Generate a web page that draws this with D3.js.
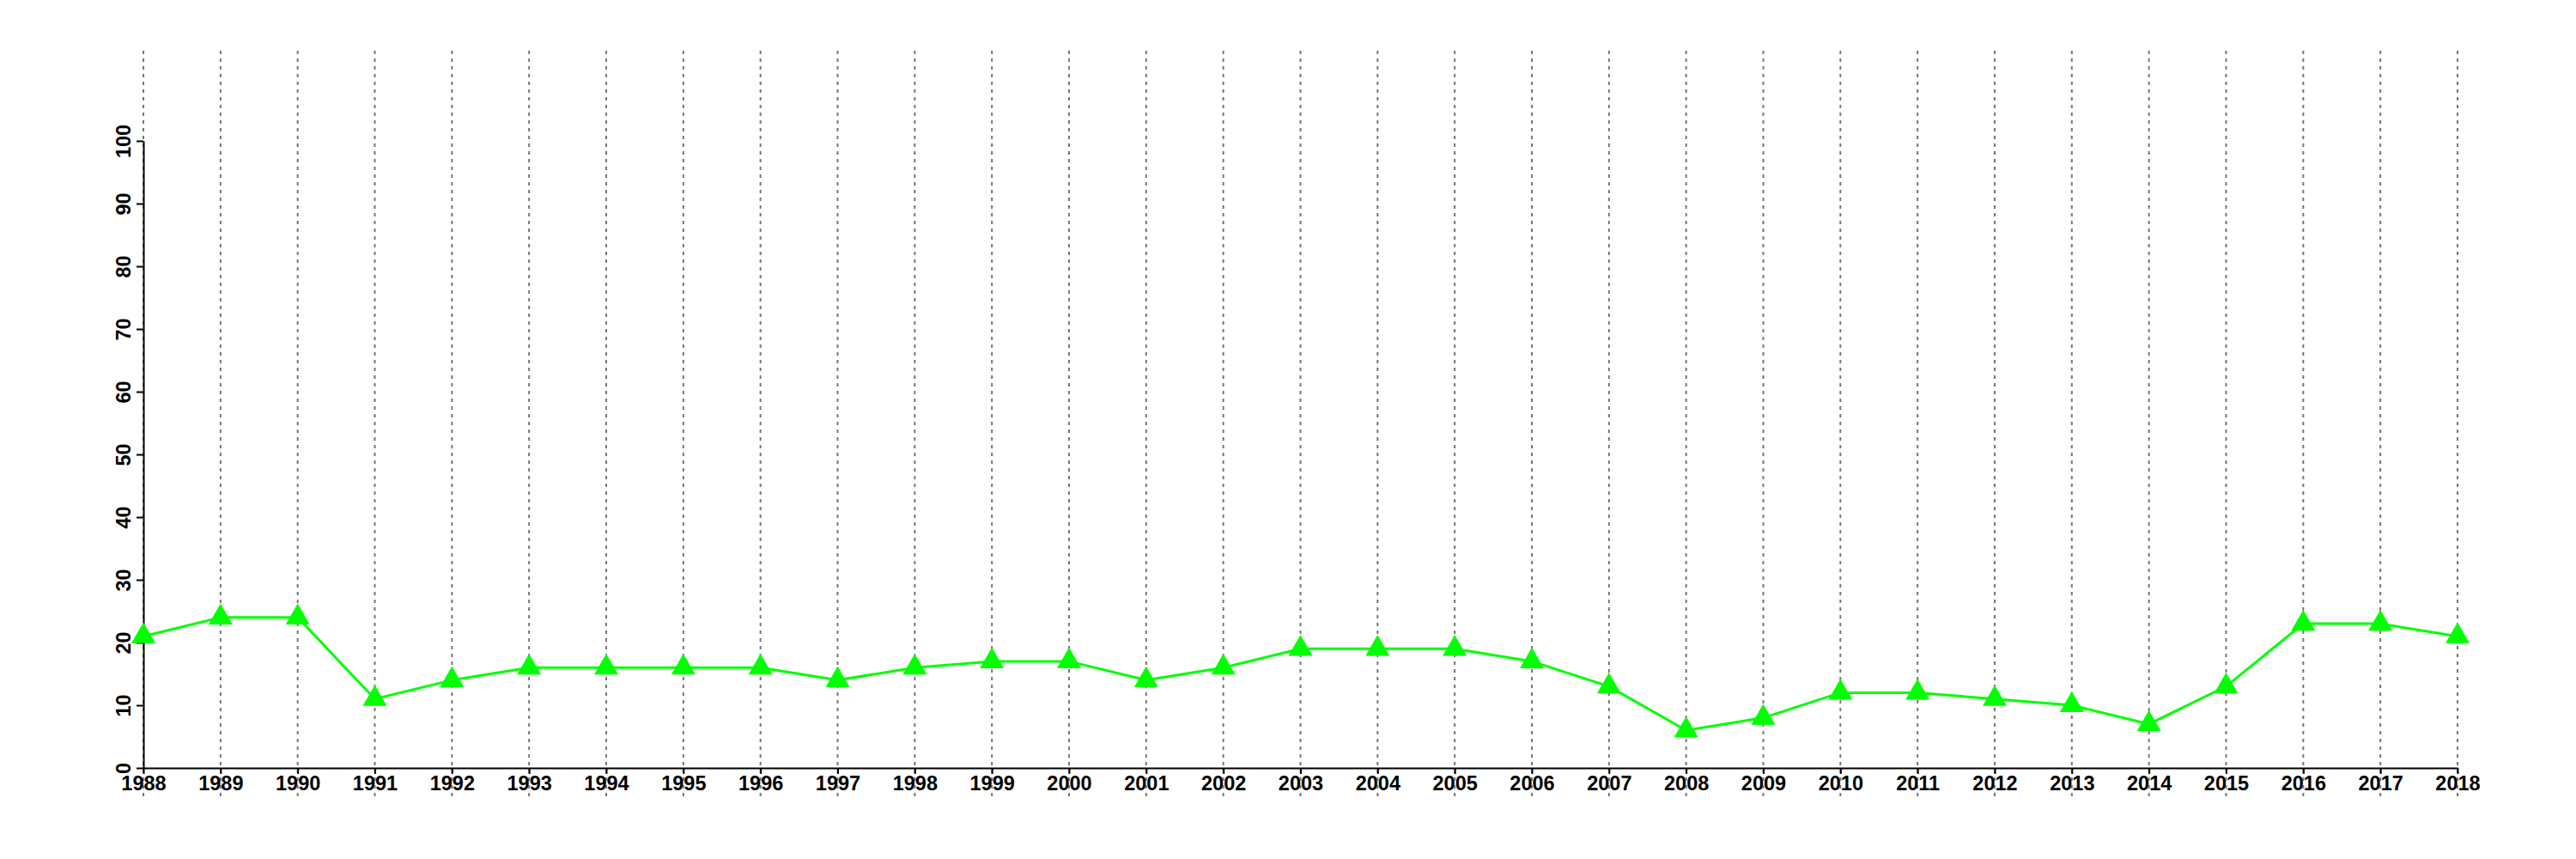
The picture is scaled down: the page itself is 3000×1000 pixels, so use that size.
<!DOCTYPE html>
<html>
<head>
<meta charset="utf-8">
<script src="https://cdn.jsdelivr.net/npm/d3@7"></script>
<style>
  html, body { margin: 0; padding: 0; background: #fff; }
  svg { display: block; }
  text { font-family: "Liberation Sans", Arial, Helvetica, sans-serif; font-weight: bold; }
</style>
</head>
<body>
<script>
const years = [1988,1989,1990,1991,1992,1993,1994,1995,1996,1997,1998,1999,2000,2001,2002,2003,2004,2005,2006,2007,2008,2009,2010,2011,2012,2013,2014,2015,2016,2017,2018];
const values = [21,24,24,11,14,16,16,16,16,14,16,17,17,14,16,19,19,19,17,13,6,8,12,12,11,10,7,13,23,23,21];
const yTicks = [0,10,20,30,40,50,60,70,80,90,100];

const W = 3000, H = 1000;
const svg = d3.select("body").append("svg").attr("width", W).attr("height", H);

const x = d3.scaleLinear().domain([1988, 2018]).range([167, 2862]);
const y = d3.scaleLinear().domain([0, 100]).range([894, 164]);

// vertical dotted grid lines
svg.append("g").selectAll("line").data(years).join("line")
  .attr("x1", d => x(d)).attr("x2", d => x(d))
  .attr("y1", 59).attr("y2", 928)
  .attr("stroke", "#777").attr("stroke-width", 2)
  .attr("stroke-dasharray", "4,5");

// x axis
const xAxis = d3.axisBottom(x).tickValues(years).tickFormat(d3.format("d")).tickSize(7).tickSizeOuter(0);
const gx = svg.append("g").attr("transform", "translate(0,894)").call(xAxis);
gx.select(".domain").attr("stroke", "#000").attr("stroke-width", 2);
gx.selectAll(".tick line").attr("stroke", "#000").attr("stroke-width", 2);
gx.selectAll(".tick text").attr("font-size", 23.5).attr("fill", "#000")
  .attr("y", 0).attr("dy", 0).attr("transform", "translate(0,920)".replace("920","26"));

// y axis
const yAxis = d3.axisLeft(y).tickValues(yTicks).tickSize(8).tickSizeOuter(0);
const gy = svg.append("g").attr("transform", "translate(167,0)").call(yAxis);
gy.select(".domain").attr("stroke", "#000").attr("stroke-width", 2);
gy.selectAll(".tick line").attr("stroke", "#000").attr("stroke-width", 2);
gy.selectAll(".tick text").attr("font-size", 23.5).attr("fill", "#000")
  .attr("x", 0).attr("dy", 0)
  .attr("text-anchor", "middle")
  .attr("transform", "translate(-15,0) rotate(-90)");

// line
const line = d3.line().x((d, i) => x(years[i])).y(d => y(d));
svg.append("path").datum(values)
  .attr("d", line)
  .attr("fill", "none").attr("stroke", "#00ff00").attr("stroke-width", 3);

// triangles
const tri = d3.symbol().type(d3.symbolTriangle).size(340);
svg.append("g").selectAll("path").data(values).join("path")
  .attr("d", tri)
  .attr("transform", (d, i) => `translate(${x(years[i])},${y(d)})`)
  .attr("fill", "#00ff00");
</script>
</body>
</html>
